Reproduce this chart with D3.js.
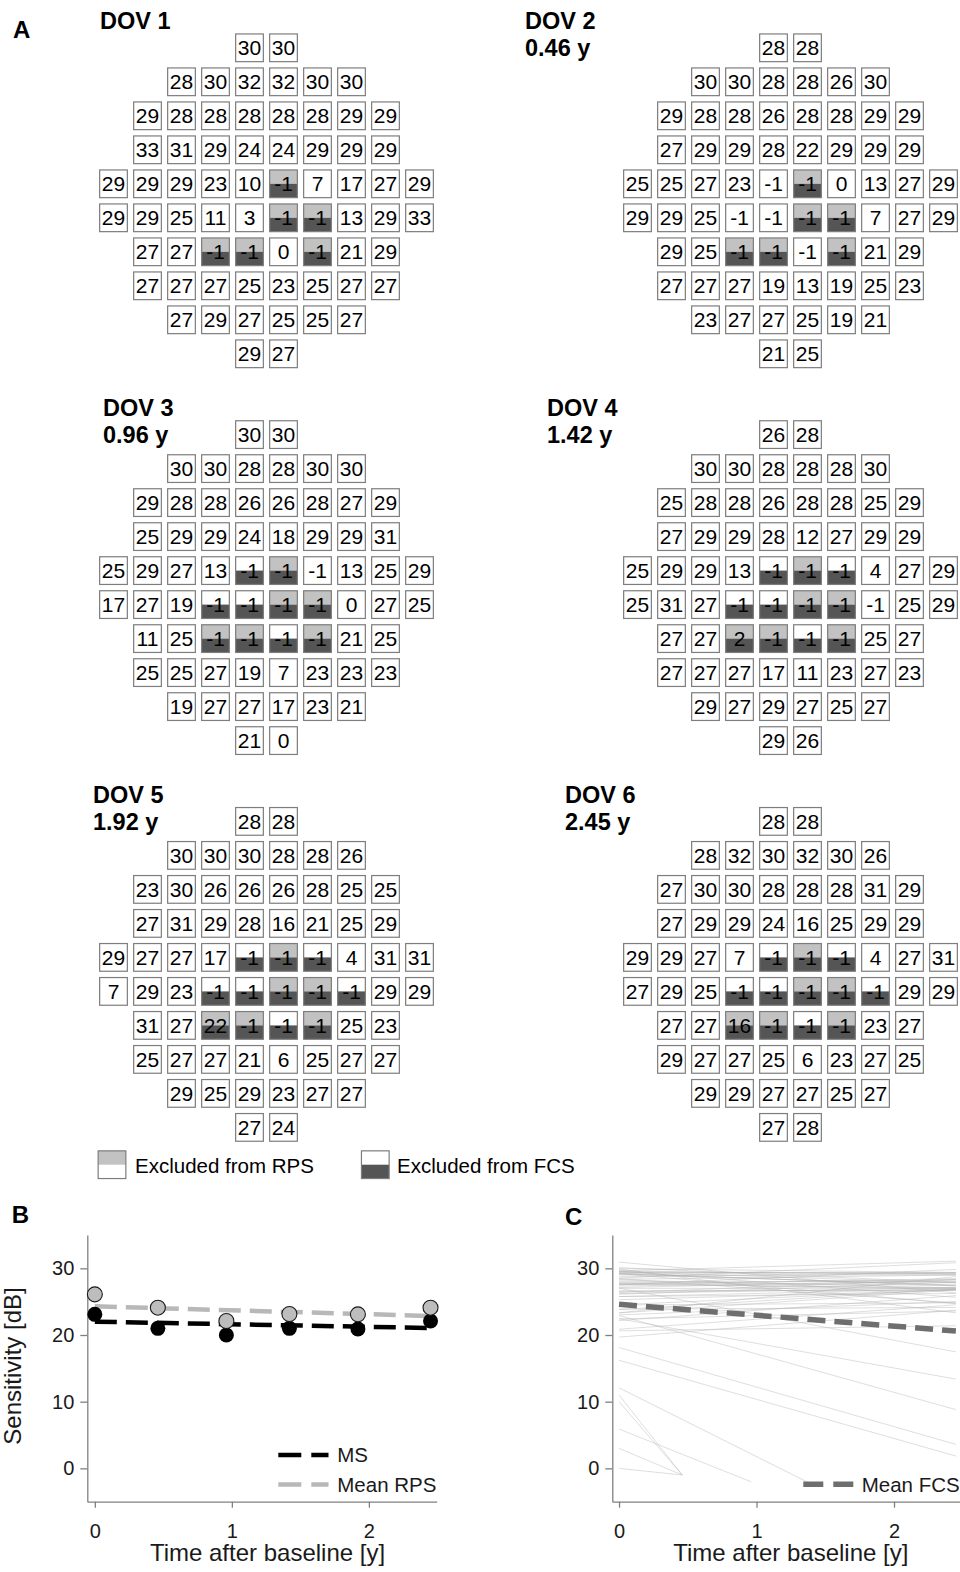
<!DOCTYPE html>
<html>
<head>
<meta charset="utf-8">
<script src="https://cdn.jsdelivr.net/npm/d3@7"></script>
<style>
  html, body { margin: 0; padding: 0; background: #fff; }
  svg { display: block; font-family: "Liberation Sans", Arial, sans-serif; }
</style>
</head>
<body>
<svg id="fig" width="960" height="1572"></svg>
<script>
// ---- visits ----
const visitNames = ["DOV 1", "DOV 2", "DOV 3", "DOV 4", "DOV 5", "DOV 6"];
const visitTimes = [0, 0.46, 0.96, 1.42, 1.92, 2.45];
const visitTimeLabels = ["", "0.46 y", "0.96 y", "1.42 y", "1.92 y", "2.45 y"];

// first column of each of the 10 rows of the 68-point test grid
const rowStartCol = [4, 2, 1, 1, 0, 0, 1, 1, 2, 4];

// ---- sensitivities [dB], row by row ----
const dov1 = [[30,30],[28,30,32,32,30,30],[29,28,28,28,28,28,29,29],[33,31,29,24,24,29,29,29],
  [29,29,29,23,10,-1,7,17,27,29],[29,29,25,11,3,-1,-1,13,29,33],[27,27,-1,-1,0,-1,21,29],
  [27,27,27,25,23,25,27,27],[27,29,27,25,25,27],[29,27]];
const dov2 = [[28,28],[30,30,28,28,26,30],[29,28,28,26,28,28,29,29],[27,29,29,28,22,29,29,29],
  [25,25,27,23,-1,-1,0,13,27,29],[29,29,25,-1,-1,-1,-1,7,27,29],[29,25,-1,-1,-1,-1,21,29],
  [27,27,27,19,13,19,25,23],[23,27,27,25,19,21],[21,25]];
const dov3 = [[30,30],[30,30,28,28,30,30],[29,28,28,26,26,28,27,29],[25,29,29,24,18,29,29,31],
  [25,29,27,13,-1,-1,-1,13,25,29],[17,27,19,-1,-1,-1,-1,0,27,25],[11,25,-1,-1,-1,-1,21,25],
  [25,25,27,19,7,23,23,23],[19,27,27,17,23,21],[21,0]];
const dov4 = [[26,28],[30,30,28,28,28,30],[25,28,28,26,28,28,25,29],[27,29,29,28,12,27,29,29],
  [25,29,29,13,-1,-1,-1,4,27,29],[25,31,27,-1,-1,-1,-1,-1,25,29],[27,27,2,-1,-1,-1,25,27],
  [27,27,27,17,11,23,27,23],[29,27,29,27,25,27],[29,26]];
const dov5 = [[28,28],[30,30,30,28,28,26],[23,30,26,26,26,28,25,25],[27,31,29,28,16,21,25,29],
  [29,27,27,17,-1,-1,-1,4,31,31],[7,29,23,-1,-1,-1,-1,-1,29,29],[31,27,22,-1,-1,-1,25,23],
  [25,27,27,21,6,25,27,27],[29,25,29,23,27,27],[27,24]];
const dov6 = [[28,28],[28,32,30,32,30,26],[27,30,30,28,28,28,31,29],[27,29,29,24,16,25,29,29],
  [29,29,27,7,-1,-1,-1,4,27,31],[27,29,25,-1,-1,-1,-1,-1,29,29],[27,27,16,-1,-1,-1,23,27],
  [29,27,27,25,6,23,27,25],[29,29,27,27,25,27],[27,28]];
const visitGrids = [dov1, dov2, dov3, dov4, dov5, dov6];

// ---- excluded locations ("row:col", col on the 10-wide grid) ----
const rpsCore = ["4:5", "5:5", "5:6", "6:3", "6:4", "6:6"];
const rpsExcluded = [rpsCore, rpsCore, rpsCore, rpsCore, rpsCore, rpsCore];
const fcsWide = ["4:4", "4:5", "5:3", "5:4", "5:5", "5:6", "6:3", "6:4", "6:5", "6:6"];
const fcsExcluded = [
  rpsCore,
  rpsCore,
  fcsWide,
  fcsWide.concat(["4:6"]),
  fcsWide.concat(["4:6", "5:7"]),
  fcsWide.concat(["4:6", "5:7"])
];

// ---- panel B summary values ----
const msValues = [23.1, 21.0, 20.0, 21.0, 20.9, 22.1];
const rpsMeanValues = [26.1, 24.1, 22.1, 23.15, 23.1, 24.1];
const msFitEnds = [22.0, 21.05];
const rpsFitEnds = [24.3, 22.85];
// ---- panel C mean trend ----
const fcsMeanEnds = [24.6, 20.6];

const yTicks = [0, 10, 20, 30];
const xTicks = [0, 1, 2];

const svg = d3.select("#fig");
const FONT = '"Liberation Sans", Arial, sans-serif';

// ================= Panel A: grids =================
const LIGHT = "#c2c2c2", DARK = "#555555", BORDER = "#7d7d7d";
const step = 34, box = 27.7;
const colScale = d3.scaleLinear().domain([0, 9]).range([0, 9 * step]);
const rowScale = d3.scaleLinear().domain([0, 9]).range([0, 9 * step]);
const titleX = [100, 525, 103, 547, 93, 565];

svg.append("text").attr("x", 13).attr("y", 38.3)
  .attr("font-size", 24).attr("font-weight", "bold").text("A");

function drawCell(g, cx, cy, value, rps, fcs) {
  const x = cx - box / 2, y = cy - box / 2;
  g.append("rect").attr("x", x).attr("y", y).attr("width", box).attr("height", box).attr("fill", "#fff");
  if (rps) g.append("rect").attr("x", x).attr("y", y).attr("width", box).attr("height", box / 2).attr("fill", LIGHT);
  if (fcs) g.append("rect").attr("x", x).attr("y", y + box / 2).attr("width", box).attr("height", box / 2).attr("fill", DARK);
  g.append("rect").attr("x", x).attr("y", y).attr("width", box).attr("height", box)
    .attr("fill", "none").attr("stroke", BORDER).attr("stroke-width", 1.2);
  if (value !== null) {
    g.append("text").attr("x", cx).attr("y", cy + 7.4).attr("text-anchor", "middle")
      .attr("font-size", 21).attr("fill", "#000").text(value);
  }
}

visitGrids.forEach((grid, v) => {
  const gx = 113.5 + (v % 2) * 524;
  const gy = 47.8 + Math.floor(v / 2) * 386.8;
  const g = svg.append("g").attr("transform", `translate(${gx},${gy})`);
  const rpsSet = new Set(rpsExcluded[v]);
  const fcsSet = new Set(fcsExcluded[v]);
  grid.forEach((row, r) => {
    row.forEach((val, i) => {
      const c = rowStartCol[r] + i;
      const key = r + ":" + c;
      drawCell(g, colScale(c), rowScale(r), val, rpsSet.has(key), fcsSet.has(key));
    });
  });
  svg.append("text").attr("x", titleX[v]).attr("y", gy - 18.5)
    .attr("font-size", 23.5).attr("font-weight", "bold").text(visitNames[v]);
  if (visitTimeLabels[v]) {
    svg.append("text").attr("x", titleX[v]).attr("y", gy + 8.5)
      .attr("font-size", 23.5).attr("font-weight", "bold").text(visitTimeLabels[v]);
  }
});

// legend of panel A
const legA = [
  { x: 112, label: "Excluded from RPS", rps: true, fcs: false, tx: 135 },
  { x: 375.3, label: "Excluded from FCS", rps: false, fcs: true, tx: 397 }
];
legA.forEach(d => {
  drawCell(svg, d.x, 1164.7, null, d.rps, d.fcs);
  svg.append("text").attr("x", d.tx).attr("y", 1172.5).attr("font-size", 20.5).text(d.label);
});

// ================= Panels B and C =================
const yScale = d3.scaleLinear().domain([-5, 35]).range([1501.7, 1235]);

function drawAxes(xScale, xLabelX) {
  const gy = svg.append("g").attr("transform", `translate(${xScale.range()[0]},0)`)
    .call(d3.axisLeft(yScale).tickValues(yTicks).tickFormat(d3.format("d"))
      .tickSize(7).tickPadding(6).tickSizeOuter(0));
  const gx = svg.append("g").attr("transform", `translate(0,${yScale.range()[0]})`)
    .call(d3.axisBottom(xScale).tickValues(xTicks).tickFormat(d3.format("d"))
      .tickSize(6).tickPadding(16).tickSizeOuter(0));
  [gy, gx].forEach(g => {
    g.selectAll("path, line").attr("stroke", "#808080").attr("stroke-width", 1.3);
    g.selectAll("text").attr("font-family", FONT).attr("font-size", 20).attr("fill", "#1a1a1a");
  });
  svg.append("text").attr("x", xLabelX).attr("y", 1561).attr("text-anchor", "middle")
    .attr("font-size", 24).attr("fill", "#1a1a1a").text("Time after baseline [y]");
}

// ---------- Panel B ----------
const xB = d3.scaleLinear().domain([-0.055, 2.495]).range([87.3, 436.7]);
svg.append("text").attr("x", 11.7).attr("y", 1223.3).attr("font-size", 24).attr("font-weight", "bold").text("B");
drawAxes(xB, 267.5);
svg.append("text").attr("transform", "translate(20.5,1366) rotate(-90)").attr("text-anchor", "middle")
  .attr("font-size", 24).attr("fill", "#1a1a1a").text("Sensitivity [dB]");

const tEnds = [visitTimes[0], visitTimes[visitTimes.length - 1]];
const dashLine = (xs, ends, color, width, dash) => {
  svg.append("line")
    .attr("x1", xs(tEnds[0])).attr("y1", yScale(ends[0]))
    .attr("x2", xs(tEnds[1])).attr("y2", yScale(ends[1]))
    .attr("stroke", color).attr("stroke-width", width)
    .attr("stroke-dasharray", dash).attr("stroke-linecap", "butt");
};
dashLine(xB, rpsFitEnds, "#b8b8b8", 4.5, "22 9");
dashLine(xB, msFitEnds, "#000", 4.5, "22 9");

svg.append("g").selectAll("circle").data(msValues).join("circle")
  .attr("cx", (d, i) => xB(visitTimes[i])).attr("cy", d => yScale(d)).attr("r", 7.5)
  .attr("fill", "#000");
svg.append("g").selectAll("circle").data(rpsMeanValues).join("circle")
  .attr("cx", (d, i) => xB(visitTimes[i])).attr("cy", d => yScale(d)).attr("r", 7.5)
  .attr("fill", "#bdbdbd").attr("stroke", "#1a1a1a").attr("stroke-width", 1.1);

// legend B
[["MS", "#000", 1455], ["Mean RPS", "#b8b8b8", 1484.5]].forEach(([label, color, y]) => {
  svg.append("line").attr("x1", 278.3).attr("x2", 328.5).attr("y1", y).attr("y2", y)
    .attr("stroke", color).attr("stroke-width", 4.5).attr("stroke-dasharray", "23 10");
  svg.append("text").attr("x", 337.3).attr("y", y + 7).attr("font-size", 20.5).attr("fill", "#1a1a1a").text(label);
});

// ---------- Panel C ----------
const xC = d3.scaleLinear().domain([-0.049, 2.48]).range([612.3, 960]);
svg.append("text").attr("x", 565).attr("y", 1225).attr("font-size", 24).attr("font-weight", "bold").text("C");
drawAxes(xC, 790.8);

// least-squares trend of each location over the visits it is not excluded from
const locationFits = [];
dov1.forEach((row, r) => {
  row.forEach((_, i) => {
    const c = rowStartCol[r] + i;
    const key = r + ":" + c;
    const ts = [], ys = [];
    visitGrids.forEach((grid, v) => {
      if (!fcsExcluded[v].includes(key)) { ts.push(visitTimes[v]); ys.push(grid[r][i]); }
    });
    if (ts.length < 2) return;
    const tm = d3.mean(ts), ym = d3.mean(ys);
    const sxy = d3.sum(ts, (t, k) => (t - tm) * (ys[k] - ym));
    const sxx = d3.sum(ts, t => (t - tm) * (t - tm));
    const slope = sxy / sxx, icpt = ym - slope * tm;
    const t0 = ts[0], t1 = ts[ts.length - 1];
    locationFits.push({ t0, t1, y0: icpt + slope * t0, y1: icpt + slope * t1 });
  });
});

svg.append("g").selectAll("line").data(locationFits).join("line")
  .attr("x1", d => xC(d.t0)).attr("y1", d => yScale(d.y0))
  .attr("x2", d => xC(d.t1)).attr("y2", d => yScale(d.y1))
  .attr("stroke", "#b0b0b0").attr("stroke-opacity", 0.42).attr("stroke-width", 1);

dashLine(xC, fcsMeanEnds, "#6e6e6e", 5.5, "18 9");

svg.append("line").attr("x1", 803.3).attr("x2", 853.5).attr("y1", 1484.3).attr("y2", 1484.3)
  .attr("stroke", "#6e6e6e").attr("stroke-width", 5.5).attr("stroke-dasharray", "20 10");
svg.append("text").attr("x", 861.7).attr("y", 1491.5).attr("font-size", 20.5).attr("fill", "#1a1a1a").text("Mean FCS");
</script>
</body>
</html>
